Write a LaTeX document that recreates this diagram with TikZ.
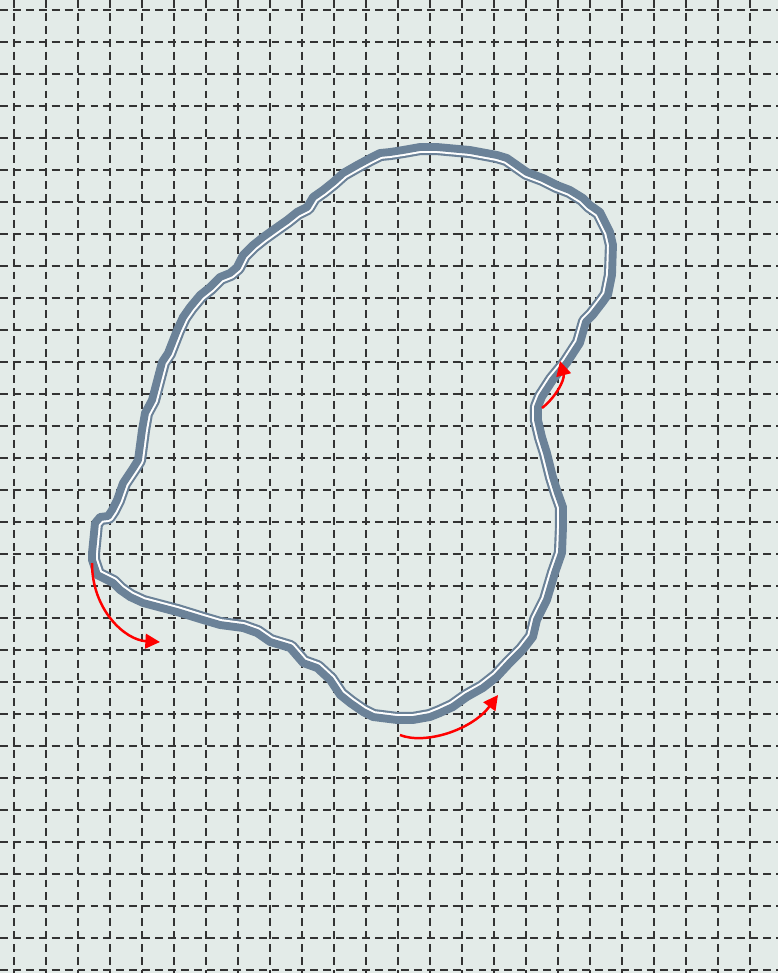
\documentclass[tikz,border=0pt]{standalone}
\usetikzlibrary{arrows.meta}
\definecolor{paperbg}{RGB}{227,235,232}
\definecolor{blobgray}{RGB}{107,130,152}
\tikzset{
    gridline/.style={
        draw=black!80,
        line width=1.8pt,
        dash pattern=on 7pt off 4.5pt
    },
    blobline/.style={
        draw=blobgray,
        line width=7pt,
        line join=round
    },
    % inner thin line, drawn inside a clip
    blobinner/.style={
        draw=blobgray,
        line width=14.4pt,
        line join=round
    },
    blobgap/.style={
        draw=white,
        line width=10.6pt,
        line join=round
    },
    turnarrow/.style={
        -{Triangle[length=13pt, width=13pt]},
        line width=2.2pt,
        color=red
    }
}
\newcommand{\blobpath}{(420,147) -- (437,147) -- (470,150) -- (497,155) -- (507,158)
    -- (517,165) -- (527,172) -- (543,178) -- (557,185) -- (570,190) -- (583,198)
    -- (590,205) -- (600,212) -- (603,218) -- (610,232) -- (613,245) -- (612,275)
    -- (608,295) -- (603,302) -- (593,315) -- (586,322) -- (580,343) -- (567,363)
    -- (553,380) -- (542,397) -- (538,407) -- (538,420) -- (542,437) -- (547,453)
    -- (553,477) -- (558,493) -- (563,507) -- (563,527) -- (562,553) -- (555,573)
    -- (547,600) -- (537,620) -- (533,637) -- (523,650) -- (510,663) -- (497,677)
    -- (483,688) -- (467,697) -- (453,707) -- (440,713) -- (430,717) -- (413,720)
    -- (397,720) -- (373,717) -- (363,712) -- (350,703) -- (340,695) -- (330,680)
    -- (317,668) -- (303,663) -- (290,648) -- (270,642) -- (257,633) -- (243,628)
    -- (220,625) -- (203,620) -- (177,612) -- (143,603) -- (130,597) -- (120,590)
    -- (113,583) -- (97,575) -- (92,560) -- (92,553) -- (95,523) -- (100,517)
    -- (108,516) -- (112,510) -- (117,500) -- (123,483) -- (133,468) -- (138,460)
    -- (142,430) -- (145,413) -- (152,400) -- (162,362) -- (168,353) -- (177,330)
    -- (183,317) -- (190,307) -- (200,295) -- (210,287) -- (220,277) -- (230,273)
    -- (237,267) -- (243,255) -- (253,245) -- (263,237) -- (277,227) -- (287,220)
    -- (297,212) -- (307,207) -- (313,197) -- (323,190) -- (333,182) -- (343,173)
    -- (357,165) -- (370,158) -- (380,153) -- (390,152) -- (403,150) -- cycle}

\begin{document}
\begin{tikzpicture}[x=0.3125mm, y=-0.3125mm]
    \fill[paperbg] (0,0) rectangle (778,973);
    \useasboundingbox (0,0) rectangle (778,973);

    % dashed grid
    \foreach \gx in {14,46,...,750}
        \draw[gridline] (\gx,0) -- (\gx,973);
    \foreach \gy in {10,42,...,970}
        \draw[gridline] (0,\gy) -- (778,\gy);

    % outline
    \begin{scope}
        \clip \blobpath;
        \draw[blobinner] \blobpath;
        \draw[blobgap] \blobpath;
    \end{scope}
    \draw[blobline] \blobpath;

    % arrows
    \coordinate (leftstart) at (92,563);
    \coordinate (leftend) at (160,642);
    \coordinate (bottomstart) at (400,735);
    \coordinate (bottomend) at (498,695);
    \coordinate (rightstart) at (542,408);
    \coordinate (rightend) at (560,361);

    \draw[turnarrow] (leftstart) .. controls (92,610) and (125,640) .. (leftend);
    \draw[turnarrow] (bottomstart) .. controls (425,745) and (472,730) .. (bottomend);
    \draw[turnarrow] (rightstart) .. controls (555,398) and (565,380) .. (rightend);
\end{tikzpicture}
\end{document}
